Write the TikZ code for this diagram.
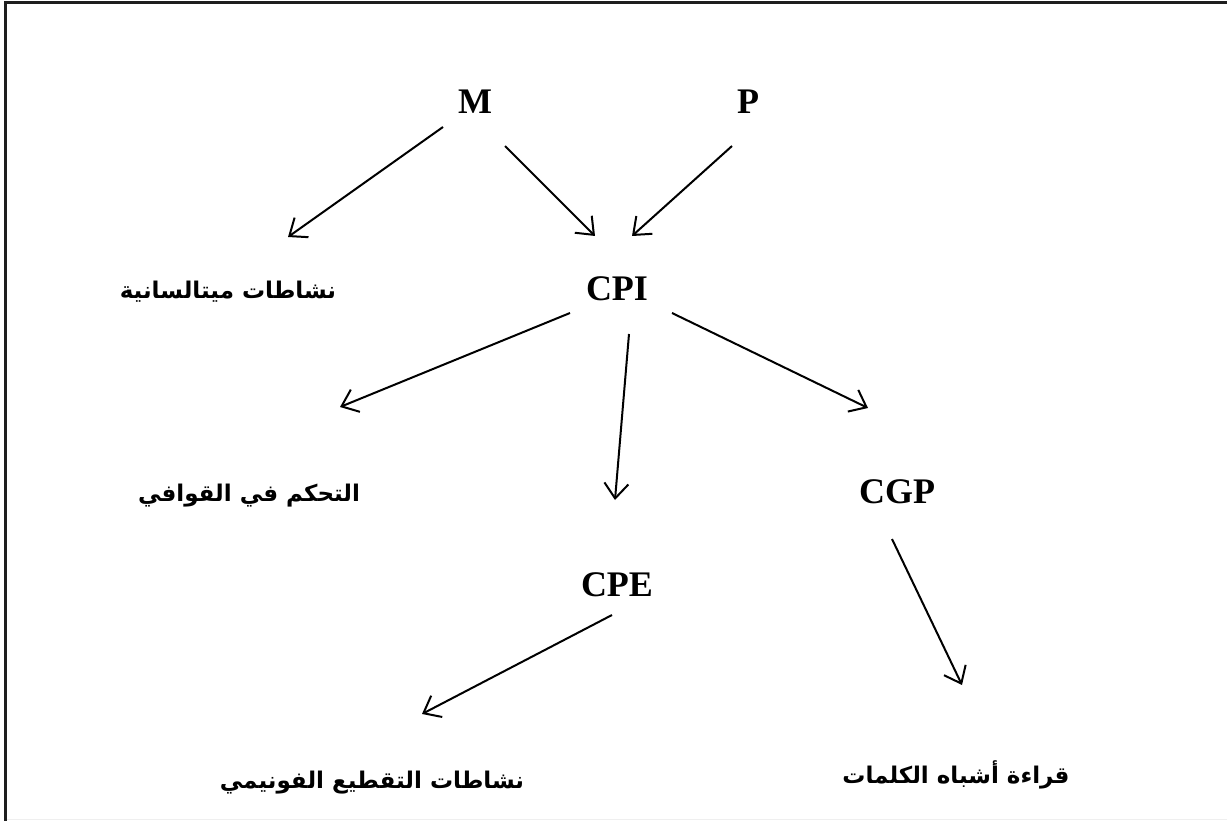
\documentclass[tikz,border=0pt]{standalone}
\usepackage{fontspec}
\setmainfont{Liberation Serif}[BoldFont={Liberation Serif Bold}]
\newfontfamily\arabicfont[Script=Arabic]{DejaVu Sans}
\TeXXeTstate=1
\usetikzlibrary{arrows.meta, calc}

\begin{document}
\begin{tikzpicture}[
    x=1pt, y=-1pt,
    every node/.style={inner sep=0pt},
    lat/.style={font=\fontsize{36}{40}\selectfont\bfseries},
    arb/.style={font=\arabicfont\fontsize{23}{28}\selectfont\bfseries},
    arr/.style={line width=2pt, -{Straight Barb[length=15pt, width=24pt]}},
]

\definecolor{framecolor}{HTML}{1E1E1E}
\definecolor{edgecolor}{HTML}{EFEFEF}

% ================================================================
% Units are pixels of the 1227 x 821 page, y running down.
%
%   y = 102   M, P
%   y = 290   CPI and the metalinguistic row
%   y = 494   rhymes, CGP
%   y = 585   CPE
%   y = 778   bottom row
% Every arrow leaves and reaches its node through a small offset,
% so the gaps between text and shaft stay as on the page.
% ================================================================

\useasboundingbox (0,0) rectangle (1227,821);

% frame: top and left only, the bottom edge is barely there
\draw[framecolor, line width=3pt] (4,2.5) -- (1227,2.5);
\draw[framecolor, line width=3pt] (5.5,1) -- (5.5,821);
\draw[edgecolor, line width=1.5pt] (7,819.5) -- (1227,819.5);

% ---------------------------------------------------------------- nodes
\node[lat] (M)   at (475,102) {M};
\node[lat] (P)   at (748,102) {P};
\node[lat] (CPI) at (617,289) {CPI};
\node[lat] (CGP) at (897,492) {CGP};
\node[lat] (CPE) at (617,585) {CPE};

\node[arb] (meta)    at (228,292) {\beginR نشاطات ميتالسانية\endR};
\node[arb] (rhyme)   at (249,496) {\beginR التحكم في القوافي\endR};
\node[arb] (segment) at (372,783) {\beginR نشاطات التقطيع الفونيمي\endR};
\node[arb] (pseudo)  at (956,775) {\beginR قراءة أشباه الكلمات\endR};

% ---------------------------------------------------------------- arrows
\foreach \a/\ax/\ay/\b/\bx/\by in {
    M/-32/25/meta/60/-55,
    M/30/44/CPI/-22/-53,
    P/-16/44/CPI/15/-53,
    CPI/-47/24/rhyme/91/-89,
    CPI/12/45/CPE/-2/-85,
    CPI/55/24/CGP/-29/-84,
    CGP/-5/47/pseudo/6/-90,
    CPE/-5/30/segment/50/-69} {
  \draw[arr] ($(\a)+(\ax,\ay)$) -- ($(\b)+(\bx,\by)$);
}

\end{tikzpicture}
\end{document}
